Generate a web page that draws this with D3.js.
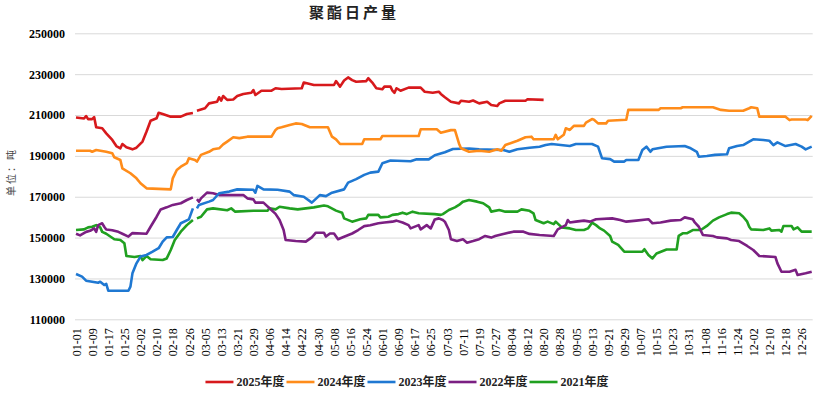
<!DOCTYPE html>
<html>
<head>
<meta charset="utf-8">
<script src="https://cdn.jsdelivr.net/npm/d3@7"></script>
<style>
  html, body { margin: 0; padding: 0; background: #fff; }
  svg text { font-family: "Times New Roman", "Liberation Serif", "Noto Sans CJK SC", serif; }
</style>
</head>
<body>
<svg id="chart" width="830" height="396"></svg>
<script>
(function () {
  "use strict";

  //////////////////////////////////////////////////////////////////////////////
  //
  // Data (daily output, tonnes), [date, value], null = no such day (02-29)
  //
  var data2025 = [
    ["01-01", 208800], ["01-05", 208300], ["01-06", 209500], ["01-07", 208000], ["01-09", 208000],
    ["01-10", 209000], ["01-11", 204000], ["01-14", 203500], ["01-16", 201000], ["01-19", 197800],
    ["01-21", 194800], ["01-23", 193700], ["01-24", 195800], ["01-26", 194200], ["01-29", 193200],
    ["01-31", 194000], ["02-03", 197000], ["02-05", 201900], ["02-07", 207200], ["02-10", 208400],
    ["02-11", 211100], ["02-13", 210500], ["02-17", 209200], ["02-22", 209200], ["02-25", 210500],
    ["02-28", 211000], ["02-29", null], ["03-01", 212100], ["03-05", 213300], ["03-07", 215700],
    ["03-11", 216500], ["03-12", 218700], ["03-13", 217000], ["03-14", 219300], ["03-16", 217400],
    ["03-19", 217600], ["03-21", 219300], ["03-24", 220300], ["03-28", 220900], ["03-29", 222200],
    ["03-30", 219800], ["04-02", 221900], ["04-07", 221900], ["04-09", 223100], ["04-12", 222700],
    ["04-22", 223100], ["04-23", 225900], ["04-28", 224700], ["05-08", 224700], ["05-09", 226600],
    ["05-11", 223900], ["05-13", 226900], ["05-15", 228400], ["05-17", 227100], ["05-19", 226300],
    ["05-24", 226600], ["05-25", 228000], ["05-27", 225900], ["05-29", 223100], ["06-01", 222600],
    ["06-02", 223900], ["06-05", 223900], ["06-06", 221900], ["06-07", 220900], ["06-08", 223100],
    ["06-10", 221900], ["06-14", 223400], ["06-20", 223400], ["06-22", 221400], ["06-26", 220900],
    ["06-29", 221400], ["06-30", 220300], ["07-02", 218700], ["07-05", 216500], ["07-09", 215700],
    ["07-10", 217000], ["07-14", 216500], ["07-16", 217100], ["07-19", 215700], ["07-23", 216500],
    ["07-25", 214900], ["07-28", 214400], ["07-29", 215700], ["08-01", 217000], ["08-11", 217000],
    ["08-12", 217700], ["08-20", 217400]
  ];

  var data2024 = [
    ["01-01", 192500], ["01-08", 192500], ["01-09", 192000], ["01-11", 192900], ["01-16", 192000],
    ["01-19", 191300], ["01-20", 189300], ["01-23", 188000], ["01-24", 183900], ["01-28", 181500],
    ["01-31", 179000], ["02-02", 176600], ["02-05", 174100], ["02-17", 173600], ["02-18", 179000],
    ["02-20", 183100], ["02-22", 184700], ["02-25", 186400], ["02-26", 188800], ["02-29", 188000],
    ["03-01", 187200], ["03-03", 190500], ["03-07", 192000], ["03-09", 193200], ["03-12", 193700],
    ["03-14", 195600], ["03-16", 197000], ["03-19", 199100], ["03-22", 198700], ["03-26", 199400],
    ["04-07", 199400], ["04-09", 202700], ["04-10", 203500], ["04-12", 204000], ["04-16", 205100],
    ["04-19", 205900], ["04-22", 205600], ["04-26", 204000], ["05-05", 204000], ["05-07", 199400],
    ["05-09", 198100], ["05-11", 195800], ["05-22", 195800], ["05-23", 198100], ["05-31", 198100],
    ["06-01", 199700], ["06-19", 199700], ["06-20", 203000], ["06-28", 203000], ["06-30", 201300],
    ["07-05", 202600], ["07-07", 202600], ["07-09", 196100], ["07-10", 193700], ["07-14", 192000],
    ["07-19", 192500], ["07-24", 192000], ["07-28", 193200], ["07-30", 192500], ["08-01", 195300],
    ["08-07", 197400], ["08-11", 199100], ["08-14", 199400], ["08-15", 198100], ["08-25", 198100],
    ["08-26", 200300], ["08-27", 198100], ["08-30", 200300], ["08-31", 203500], ["09-02", 202700],
    ["09-04", 204700], ["09-09", 204700], ["09-10", 206300], ["09-13", 208000], ["09-14", 207700],
    ["09-16", 205900], ["09-20", 205900], ["09-21", 207200], ["09-30", 207700], ["10-01", 212500],
    ["10-16", 212500], ["10-17", 213300], ["10-27", 213300], ["10-28", 213800], ["11-12", 213800],
    ["11-16", 212500], ["11-20", 212100], ["11-27", 212100], ["11-30", 213300], ["12-01", 213800],
    ["12-04", 213300], ["12-05", 209200], ["12-18", 209200], ["12-20", 207500], ["12-21", 207800],
    ["12-28", 207800], ["12-29", 207500], ["12-31", 209600]
  ];

  var data2023 = [
    ["01-01", 132200], ["01-04", 130900], ["01-06", 128900], ["01-09", 128400], ["01-12", 127900],
    ["01-13", 128400], ["01-15", 126800], ["01-16", 127300], ["01-17", 124000], ["01-27", 124000],
    ["01-28", 126000], ["01-29", 132500], ["01-31", 137400], ["02-02", 140700], ["02-05", 141500],
    ["02-08", 143100], ["02-11", 144800], ["02-13", 148000], ["02-15", 150100], ["02-18", 150300],
    ["02-20", 153700], ["02-22", 157000], ["02-26", 158900], ["02-28", 164300], ["02-29", null],
    ["03-01", 164300], ["03-02", 166000], ["03-07", 167600], ["03-09", 168400], ["03-12", 171700],
    ["03-17", 172500], ["03-21", 173600], ["03-29", 173400], ["03-30", 172000], ["03-31", 175300],
    ["04-03", 173600], ["04-10", 173400], ["04-16", 172500], ["04-18", 170800], ["04-23", 170000],
    ["04-27", 167100], ["05-01", 170800], ["05-04", 170300], ["05-07", 172000], ["05-13", 173600],
    ["05-15", 176900], ["05-19", 178600], ["05-23", 180700], ["05-26", 181800], ["05-30", 182300],
    ["06-01", 186400], ["06-05", 187700], ["06-15", 187400], ["06-18", 188300], ["06-24", 188300],
    ["06-27", 190300], ["07-02", 191800], ["07-06", 193400], ["07-14", 193600], ["07-19", 193200],
    ["07-31", 192900], ["08-03", 192000], ["08-07", 193200], ["08-13", 194000], ["08-18", 194500],
    ["08-21", 195300], ["08-24", 195800], ["09-02", 194800], ["09-05", 195800], ["09-13", 195800],
    ["09-16", 194500], ["09-18", 188800], ["09-22", 188400], ["09-24", 187200], ["09-29", 187200],
    ["09-30", 188000], ["10-06", 188000], ["10-08", 192900], ["10-10", 194500], ["10-12", 192000],
    ["10-13", 193200], ["10-20", 194500], ["10-29", 194800], ["11-01", 193700], ["11-04", 192000],
    ["11-05", 189600], ["11-09", 189900], ["11-13", 190500], ["11-19", 190800], ["11-20", 193700],
    ["11-24", 194800], ["11-27", 195300], ["11-30", 197000], ["12-02", 198100], ["12-07", 197800],
    ["12-10", 197400], ["12-12", 195300], ["12-14", 196600], ["12-18", 194800], ["12-23", 195800],
    ["12-26", 194500], ["12-28", 193200], ["12-31", 194500]
  ];

  var data2022 = [
    ["01-01", 151900], ["01-03", 151100], ["01-06", 152800], ["01-08", 153300], ["01-10", 154500],
    ["01-11", 152800], ["01-12", 156100], ["01-14", 157000], ["01-15", 155300], ["01-16", 154000],
    ["01-19", 153600], ["01-22", 152800], ["01-24", 151900], ["01-27", 150500], ["01-29", 152200],
    ["02-05", 151900], ["02-07", 155300], ["02-10", 160200], ["02-12", 163800], ["02-15", 164800],
    ["02-18", 166000], ["02-22", 166800], ["02-25", 168400], ["02-28", 169700], ["02-29", null],
    ["03-01", 168800], ["03-02", 167600], ["03-03", 169200], ["03-06", 172000], ["03-09", 171700],
    ["03-12", 170800], ["03-24", 170800], ["03-26", 169200], ["03-29", 168700], ["03-30", 167100],
    ["04-03", 167100], ["04-06", 164400], ["04-09", 161600], ["04-11", 158600], ["04-13", 153700],
    ["04-14", 148800], ["04-19", 148300], ["04-24", 148000], ["04-27", 150100], ["04-29", 152400],
    ["05-03", 152400], ["05-04", 150500], ["05-06", 152000], ["05-08", 152000], ["05-10", 149200],
    ["05-13", 150400], ["05-17", 152000], ["05-20", 153700], ["05-23", 155600], ["05-26", 156000],
    ["05-30", 157000], ["06-02", 157400], ["06-06", 157800], ["06-08", 158300], ["06-11", 157400],
    ["06-14", 156100], ["06-15", 154500], ["06-19", 156100], ["06-20", 154000], ["06-23", 156100],
    ["06-25", 154500], ["06-27", 158900], ["06-29", 159400], ["07-01", 158600], ["07-02", 157800],
    ["07-04", 153700], ["07-05", 149200], ["07-08", 148300], ["07-11", 149200], ["07-13", 147500],
    ["07-16", 148300], ["07-19", 149200], ["07-22", 150800], ["07-25", 150000], ["07-27", 150800],
    ["07-31", 151800], ["08-05", 152900], ["08-10", 152900], ["08-13", 151800], ["08-18", 151300],
    ["08-25", 150800], ["08-27", 154000], ["08-31", 156100], ["09-01", 158600], ["09-02", 157400],
    ["09-05", 157800], ["09-09", 158300], ["09-12", 157800], ["09-15", 159000], ["09-23", 159400],
    ["09-27", 158600], ["09-30", 157800], ["10-05", 158300], ["10-11", 159000], ["10-13", 157000],
    ["10-17", 157400], ["10-22", 158300], ["10-27", 158600], ["10-29", 159900], ["11-02", 159000],
    ["11-03", 157400], ["11-05", 155300], ["11-07", 151300], ["11-12", 150800], ["11-14", 150100],
    ["11-19", 149600], ["11-21", 148800], ["11-25", 148300], ["11-29", 145900], ["12-02", 143900],
    ["12-05", 141000], ["12-13", 140500], ["12-14", 137400], ["12-16", 133300], ["12-20", 133300],
    ["12-23", 134200], ["12-24", 131700], ["12-28", 132500], ["12-31", 133300]
  ];

  var data2021 = [
    ["01-01", 153700], ["01-05", 154000], ["01-07", 155000], ["01-09", 155300], ["01-11", 156100],
    ["01-13", 155000], ["01-14", 152800], ["01-16", 151900], ["01-20", 149200], ["01-23", 148800],
    ["01-25", 147200], ["01-26", 141000], ["01-30", 140500], ["02-02", 141000], ["02-03", 139000],
    ["02-05", 141000], ["02-07", 139400], ["02-13", 139000], ["02-15", 139800], ["02-17", 143900],
    ["02-19", 148800], ["02-22", 152900], ["02-25", 156100], ["02-28", 158600], ["02-29", null],
    ["03-01", 159400], ["03-03", 160200], ["03-06", 163800], ["03-09", 164300], ["03-16", 163400],
    ["03-18", 164300], ["03-20", 162700], ["03-29", 163100], ["04-05", 163100], ["04-06", 164400],
    ["04-09", 163800], ["04-11", 165100], ["04-16", 164300], ["04-20", 163800], ["04-28", 164800],
    ["05-03", 165700], ["05-05", 165300], ["05-09", 163200], ["05-12", 162200], ["05-13", 159400],
    ["05-17", 157800], ["05-21", 159000], ["05-24", 159400], ["05-25", 161100], ["05-30", 161100],
    ["05-31", 159900], ["06-04", 160200], ["06-06", 161100], ["06-09", 161500], ["06-11", 162200],
    ["06-13", 161500], ["06-16", 162700], ["06-19", 161900], ["06-27", 161500], ["06-30", 161100],
    ["07-01", 161500], ["07-04", 163500], ["07-07", 164800], ["07-09", 166000], ["07-11", 167600],
    ["07-14", 168400], ["07-18", 167600], ["07-21", 166800], ["07-24", 164800], ["07-25", 162700],
    ["07-29", 163500], ["08-01", 162700], ["08-07", 162700], ["08-09", 163800], ["08-13", 163100],
    ["08-15", 161900], ["08-16", 158600], ["08-20", 157000], ["08-22", 157800], ["08-25", 156600],
    ["08-26", 157800], ["08-29", 155000], ["09-02", 154500], ["09-05", 153700], ["09-09", 153700],
    ["09-11", 154500], ["09-13", 157300], ["09-15", 156100], ["09-17", 154500], ["09-19", 153400],
    ["09-22", 150800], ["09-23", 148000], ["09-26", 146400], ["09-29", 143100], ["10-08", 143100],
    ["10-09", 144300], ["10-11", 141500], ["10-13", 139800], ["10-15", 142200], ["10-20", 144200],
    ["10-25", 144200], ["10-26", 150800], ["10-28", 152100], ["10-30", 152100], ["11-02", 153700],
    ["11-06", 153700], ["11-09", 155700], ["11-12", 158300], ["11-15", 159900], ["11-19", 161500],
    ["11-21", 162200], ["11-25", 161900], ["11-27", 160200], ["11-29", 157800], ["11-30", 155300],
    ["12-01", 154000], ["12-07", 153700], ["12-10", 154500], ["12-11", 153400], ["12-15", 153700],
    ["12-16", 152900], ["12-17", 155700], ["12-21", 155700], ["12-22", 154000], ["12-24", 155000],
    ["12-26", 152900], ["12-31", 152900]
  ];

  var seriesNames = ["2025年度", "2024年度", "2023年度", "2022年度", "2021年度"];
  var seriesColors = ["#d7191c", "#ff8c1a", "#1f78d2", "#7b1f82", "#20a020"];
  var seriesData = [data2025, data2024, data2023, data2022, data2021];

  var yTicks = [110000, 130000, 150000, 170000, 190000, 210000, 230000, 250000];

  // every day of a leap year as a category, label every 8th
  var dates = d3.timeDay.range(new Date(2024, 0, 1), new Date(2025, 0, 1)).map(d3.timeFormat("%m-%d"));
  var tickDates = dates.filter(function (d, i) { return i % 8 === 0; });

  //////////////////////////////////////////////////////////////////////////////
  //
  // Layout
  //
  var svg = d3.select("#chart");
  var left = 75, right = 812.7, top = 33.3, bottom = 319.3;

  var x = d3.scalePoint().domain(dates).range([left, right]).padding(0.5);
  var y = d3.scaleLinear().domain([110000, 250000]).range([bottom, top]);

  // Title
  svg.append("text")
    .attr("x", 354)
    .attr("y", 18)
    .attr("text-anchor", "middle")
    .style("font-family", "'Noto Sans CJK SC', sans-serif")
    .style("font-size", "15px")
    .style("font-weight", "bold")
    .style("letter-spacing", "3px")
    .attr("fill", "#222")
    .text("聚酯日产量");

  // Grid lines
  svg.append("g")
    .attr("class", "grid")
    .attr("transform", "translate(" + left + ",0)")
    .call(d3.axisLeft(y).tickValues(yTicks).tickSize(-(right - left)).tickFormat(""))
    .call(function (g) {
      g.select(".domain").remove();
      g.selectAll("line").attr("stroke", "#d9d9d9").attr("stroke-width", 1);
    });

  // Y axis labels
  svg.append("g")
    .attr("transform", "translate(" + left + ",0)")
    .call(d3.axisLeft(y).tickValues(yTicks).tickSize(0).tickPadding(10).tickFormat(d3.format("d")))
    .call(function (g) {
      g.select(".domain").remove();
      g.selectAll("text")
        .style("font-size", "12px")
        .style("font-weight", "bold")
        .attr("fill", "#000");
    });

  // Y axis title
  svg.append("text")
    .attr("transform", "translate(15,172) rotate(-90)")
    .attr("text-anchor", "middle")
    .style("font-family", "'Noto Sans CJK SC', sans-serif")
    .style("font-size", "10px")
    .style("letter-spacing", "2px")
    .attr("fill", "#444")
    .text("单位：吨");

  // X axis labels
  svg.append("g")
    .attr("transform", "translate(0," + bottom + ")")
    .call(d3.axisBottom(x).tickValues(tickDates).tickSize(0))
    .call(function (g) {
      g.select(".domain").remove();
      g.selectAll("text")
        .attr("x", -9)
        .attr("y", 0)
        .attr("dy", "0.35em")
        .attr("transform", "rotate(-90)")
        .style("text-anchor", "end")
        .style("font-size", "12px")
        .attr("fill", "#000");
    });

  // Lines (oldest first so 2025 is on top)
  var line = d3.line()
    .defined(function (d) { return d[1] !== null; })
    .x(function (d) { return x(d[0]); })
    .y(function (d) { return y(d[1]); });

  for (var i = seriesData.length - 1; i >= 0; i--) {
    svg.append("path")
      .datum(seriesData[i])
      .attr("fill", "none")
      .attr("stroke", seriesColors[i])
      .attr("stroke-width", 2.6)
      .attr("stroke-linejoin", "round")
      .attr("d", line);
  }

  //////////////////////////////////////////////////////////////////////////////
  //
  // Legend
  //
  var legend = svg.append("g");
  var offset = 0;
  seriesNames.forEach(function (name, k) {
    var item = legend.append("g").attr("transform", "translate(" + offset + ",0)");
    item.append("line")
      .attr("x1", 0).attr("x2", 28)
      .attr("y1", 0).attr("y2", 0)
      .attr("stroke", seriesColors[k])
      .attr("stroke-width", 2.6);
    var t = item.append("text")
      .attr("x", 31)
      .attr("y", 0)
      .attr("dy", "0.35em")
      .style("font-size", "12px")
      .style("font-weight", "bold")
      .attr("fill", "#222")
      .text(name);
    offset += 31 + t.node().getComputedTextLength() + 2;
  });
  legend.attr("transform", "translate(" + (408 - offset / 2) + ",382)");
})();
</script>
</body>
</html>
